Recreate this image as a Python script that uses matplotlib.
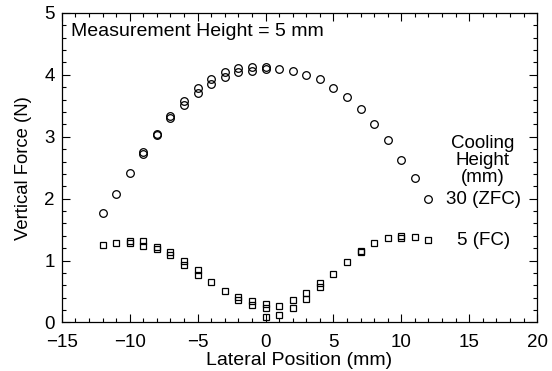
import matplotlib
matplotlib.use("Agg")
import matplotlib.pyplot as plt
from matplotlib.ticker import MultipleLocator

plt.rcParams['font.family'] = ['Liberation Sans', 'DejaVu Sans']

# lateral position (mm), first sweep covers the whole range
pos_all = list(range(-12, 13))
zfc_a = [1.77, 2.08, 2.415, 2.76, 3.045, 3.33, 3.57, 3.78, 3.93, 4.04, 4.11, 4.12, 4.12,
         4.09, 4.06, 4.00, 3.93, 3.79, 3.64, 3.45, 3.21, 2.94, 2.63, 2.33, 1.99]
# second sweep, zfc
pos_zfc_b = list(range(-9, 1))
zfc_b = [2.72, 3.03, 3.30, 3.52, 3.71, 3.86, 3.96, 4.04, 4.07, 4.10]

fc_a = [1.25, 1.29, 1.31, 1.32, 1.22, 1.13, 0.99, 0.85, 0.66, 0.51, 0.41, 0.34, 0.30,
        0.27, 0.36, 0.47, 0.63, 0.79, 0.98, 1.16, 1.28, 1.36, 1.39, 1.38, 1.33]
pos_fc_b = [-10, -9, -8, -7, -6, -5, -2, -1, 0, 1, 2, 3, 4, 7, 10, 0]
fc_b = [1.29, 1.24, 1.19, 1.09, 0.93, 0.77, 0.36, 0.28, 0.24, 0.12, 0.24, 0.38, 0.57, 1.13, 1.37, 0.08]

fig = plt.figure(figsize=(5.52, 3.71), dpi=100)
ax = fig.add_axes([0.112, 0.131, 0.861, 0.834])

mk = dict(linestyle='none', markerfacecolor='none', markeredgecolor='black', markeredgewidth=0.9)
ax.plot(pos_all, zfc_a, marker='o', markersize=5.5, **mk)
ax.plot(pos_zfc_b, zfc_b, marker='o', markersize=5.5, **mk)
ax.plot(pos_all, fc_a, marker='s', markersize=5, **mk)
ax.plot(pos_fc_b, fc_b, marker='s', markersize=5, **mk)

ax.set_xlim(-15, 20)
ax.set_ylim(0, 5)
ax.xaxis.set_major_locator(MultipleLocator(5))
ax.xaxis.set_minor_locator(MultipleLocator(1))
ax.yaxis.set_major_locator(MultipleLocator(1))
ax.yaxis.set_minor_locator(MultipleLocator(0.2))
ax.tick_params(which='both', direction='in', top=True, right=True, labelsize=13.5, width=0.8)
ax.tick_params(which='major', length=6)
ax.tick_params(axis='x', which='major', pad=8)
ax.tick_params(axis='y', which='major', pad=5)
ax.tick_params(which='minor', length=3)
for s in ax.spines.values():
    s.set_linewidth(0.9)

ax.set_xlabel('Lateral Position (mm)', fontsize=14, labelpad=1)
ax.set_ylabel('Vertical Force (N)', fontsize=13.3, labelpad=9)

ax.text(-14.3, 4.70, 'Measurement Height = 5 mm', fontsize=14, va='center')
ax.text(16.0, 2.62, 'Cooling\nHeight\n(mm)', fontsize=13.5, ha='center', va='center', linespacing=1.0)
ax.text(13.3, 1.99, '30 (ZFC)', fontsize=13.5, va='center')
ax.text(14.1, 1.33, '5 (FC)', fontsize=13.5, va='center')

fig.savefig('out.png', dpi=100)
